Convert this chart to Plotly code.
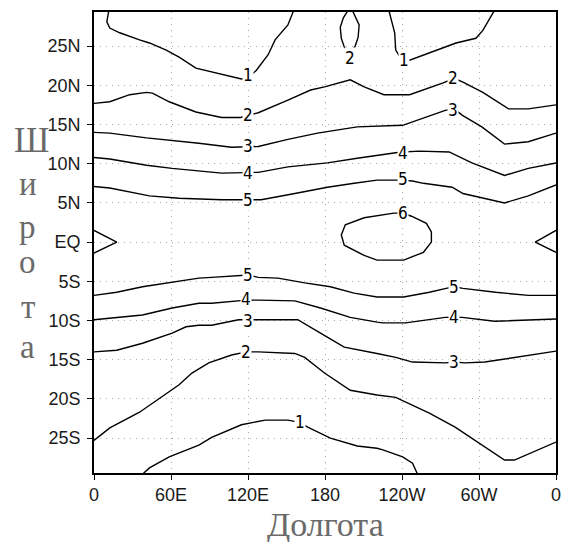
import plotly.graph_objects as go

# ---------------- axis ticks ----------------
x_tickvals = [0, 60, 120, 180, 240, 300, 360]
x_ticktext = ["0", "60E", "120E", "180", "120W", "60W", "0"]
y_tickvals = [25, 20, 15, 10, 5, 0, -5, -10, -15, -20, -25]
y_ticktext = ["25N", "20N", "15N", "10N", "5N", "EQ", "5S", "10S", "15S", "20S", "25S"]

# ---------------- contour lines (lon, lat) ----------------
c1_nw_lon = [11.6, 10.0, 12.3, 20.0, 35.5, 43.2, 56.3, 66.3, 79.4, 91.7, 114.9, 120.3, 126.4, 135.7, 141.1, 151.1, 155.7]
c1_nw_lat = [29.6, 28.1, 27.3, 26.7, 25.8, 25.4, 24.5, 23.6, 22.2, 21.7, 20.8, 21.0, 21.9, 23.9, 25.8, 27.7, 29.6]

c1_ne_lon = [229.7, 234.3, 235.1, 239.0, 245.9, 266.7, 282.1, 297.6, 303.0, 312.2]
c1_ne_lat = [29.6, 26.7, 24.5, 23.5, 23.2, 24.5, 25.4, 26.0, 27.0, 29.6]

c2_loop_lon = [198.1, 194.3, 191.9, 192.7, 195.0, 199.7, 203.5, 205.8, 206.6, 203.5, 201.2]
c2_loop_lat = [29.6, 28.6, 27.4, 26.0, 24.9, 24.0, 25.0, 26.1, 27.7, 28.8, 29.6]

c2_n_lon = [0, 12.3, 27.8, 40.9, 45.5, 58.6, 79.4, 99.4, 114.1, 120.3, 128.0, 151.1, 168.8, 179.6, 199.7,
            210.5, 225.9, 245.9, 272.1, 280.6, 287.5, 303.0, 323.0, 338.4, 360]
c2_n_lat = [17.7, 17.9, 18.8, 19.1, 19.0, 17.9, 16.6, 15.9, 15.9, 16.2, 16.5, 18.1, 19.4, 19.8, 20.7,
            19.8, 18.8, 18.8, 20.3, 20.9, 20.4, 19.1, 17.0, 17.0, 17.5]

c3_n_lon = [0, 12.3, 40.9, 60.9, 81.7, 107.2, 120.3, 128.0, 151.1, 174.2, 205.1, 220.5, 240.5, 273.7,
            280.6, 286.8, 302.2, 319.9, 338.4, 360]
c3_n_lat = [14.0, 13.9, 13.3, 13.0, 12.6, 12.1, 12.2, 12.2, 13.1, 13.9, 14.7, 14.8, 14.9, 16.8,
            17.0, 16.2, 14.7, 12.5, 12.8, 13.9]

c4_n_lon = [0, 12.3, 40.9, 60.9, 99.4, 120.3, 128.0, 151.1, 181.9, 205.1, 220.5, 235.1, 240.5, 253.6,
            276.7, 294.5, 319.9, 338.4, 360]
c4_n_lat = [10.8, 10.6, 9.8, 9.4, 8.8, 8.9, 8.9, 9.6, 10.1, 10.7, 11.1, 11.4, 11.5, 11.6,
            11.5, 10.1, 8.5, 9.4, 10.1]

c5_n_lon = [0, 12.3, 43.2, 66.3, 99.4, 120.3, 130.3, 156.5, 181.9, 202.7, 220.5, 240.5, 248.2, 256.7,
            279.1, 287.5, 319.9, 338.4, 360]
c5_n_lat = [7.1, 6.9, 5.9, 5.6, 5.4, 5.4, 5.4, 6.2, 7.0, 7.5, 7.9, 7.9, 7.8, 7.5,
            7.0, 6.2, 5.0, 5.9, 7.3]

c6_oval_lon = [240.5, 233.6, 210.5, 195.8, 192.7, 195.0, 210.5, 220.5, 241.3, 256.7, 262.9, 262.9, 259.0, 247.4, 240.5]
c6_oval_lat = [3.7, 3.7, 3.1, 2.2, 0.9, -0.4, -1.7, -2.3, -2.3, -1.3, 0.0, 1.3, 2.4, 3.3, 3.7]

c6_west_lon = [0, 17.7, 0]
c6_west_lat = [1.5, 0.0, -1.4]
c6_east_lon = [360, 343.8, 360]
c6_east_lat = [1.5, 0.0, -1.3]

c5_s_lon = [0, 17.7, 37.8, 60.9, 81.7, 91.7, 112.5, 120.3, 128.0, 143.4, 164.2, 184.2, 202.7, 220.5,
            241.3, 261.3, 274.4, 280.6, 287.5, 313.0, 338.4, 360]
c5_s_lat = [-6.8, -6.4, -5.7, -5.1, -4.6, -4.5, -4.3, -4.2, -4.5, -4.6, -5.2, -5.7, -6.5, -7.0,
            -7.0, -6.4, -5.9, -5.7, -5.9, -6.4, -6.8, -6.8]

c4_s_lon = [0, 17.7, 37.8, 60.9, 81.7, 91.7, 112.5, 118.7, 128.0, 156.5, 176.5, 199.7, 220.5, 225.1,
            242.8, 273.7, 280.6, 286.8, 312.2, 338.4, 360]
c4_s_lat = [-9.9, -9.6, -9.3, -8.4, -7.8, -7.8, -7.5, -7.4, -7.4, -7.5, -8.4, -9.6, -10.2, -10.3,
            -10.3, -9.6, -9.6, -9.6, -10.1, -9.9, -9.8]

c3_s_lon = [0, 17.7, 37.8, 60.9, 71.7, 81.7, 91.7, 112.5, 120.3, 128.0, 158.8, 176.5, 195.0, 220.5,
            235.1, 248.2, 273.7, 280.6, 289.1, 304.5, 338.4, 360]
c3_s_lat = [-14.0, -13.8, -12.9, -11.6, -10.8, -10.6, -10.6, -9.9, -9.9, -9.9, -9.9, -11.6, -13.4, -14.2,
            -14.7, -15.3, -15.4, -15.3, -15.4, -15.3, -14.4, -13.9]

c2_s_lon = [0, 12.3, 35.5, 48.6, 66.3, 76.3, 89.4, 107.2, 118.7, 128.0, 156.5, 164.2, 179.6, 199.7,
            220.5, 235.1, 242.8, 261.3, 281.4, 299.9, 319.9, 327.6, 346.1, 360]
c2_s_lat = [-25.3, -23.7, -21.7, -20.2, -18.2, -16.7, -15.4, -14.4, -14.0, -14.0, -14.2, -14.7, -16.7, -18.9,
            -19.5, -19.8, -20.4, -21.8, -23.6, -25.6, -27.8, -27.8, -26.5, -25.5]

c1_s_lon = [37.8, 43.2, 58.6, 71.7, 81.7, 91.7, 114.9, 133.4, 151.1, 160.3, 166.5, 184.2, 205.1, 220.5,
            225.1, 240.5, 248.2, 252.1]
c1_s_lat = [-29.6, -28.8, -27.4, -26.5, -25.9, -24.9, -23.3, -22.7, -22.7, -23.0, -23.6, -25.0, -26.0, -26.3,
            -26.5, -27.4, -28.2, -29.6]

# contour labels: (text, lon, lat)
label_text = ["1", "1", "2", "2", "2", "3", "3", "4", "4", "5", "5", "6",
              "5", "5", "4", "4", "3", "3", "2", "1"]
label_lon = [120.3, 241.3, 199.7, 120.3, 279.8, 120.3, 279.8, 120.3, 240.5, 120.3, 240.5, 240.5,
             120.3, 280.6, 118.7, 280.6, 120.3, 280.6, 118.7, 160.3]
label_lat = [21.3, 23.2, 23.5, 16.2, 20.9, 12.2, 16.8, 8.8, 11.4, 5.4, 8.0, 3.7,
             -4.2, -5.7, -7.2, -9.6, -10.0, -15.3, -14.0, -23.0]

lines = [
    (c1_nw_lon, c1_nw_lat), (c1_ne_lon, c1_ne_lat), (c2_loop_lon, c2_loop_lat),
    (c2_n_lon, c2_n_lat), (c3_n_lon, c3_n_lat), (c4_n_lon, c4_n_lat), (c5_n_lon, c5_n_lat),
    (c6_oval_lon, c6_oval_lat), (c6_west_lon, c6_west_lat), (c6_east_lon, c6_east_lat),
    (c5_s_lon, c5_s_lat), (c4_s_lon, c4_s_lat), (c3_s_lon, c3_s_lat),
    (c2_s_lon, c2_s_lat), (c1_s_lon, c1_s_lat),
]

fig = go.Figure()
for lon, lat in lines:
    fig.add_trace(go.Scatter(x=lon, y=lat, mode="lines",
                             line=dict(color="black", width=1.4),
                             hoverinfo="skip", showlegend=False))

label_font = dict(family="DejaVu Sans Condensed, Liberation Sans", size=17, color="black")
for t, lo, la in zip(label_text, label_lon, label_lat):
    fig.add_annotation(x=lo, y=la, xref="x", yref="y", text=t, showarrow=False,
                       font=label_font, bgcolor="white", borderpad=0)

# axis titles
title_color = "#6a6a6a"
fig.add_annotation(x=0.5, y=-0.112, xref="paper", yref="paper", text="Долгота",
                   showarrow=False, xanchor="center", yanchor="middle",
                   font=dict(family="Liberation Serif", size=34, color=title_color))
ylet = ["Ш", "и", "р", "о", "т", "а"]
ylet_y = [0.722, 0.627, 0.534, 0.458, 0.360, 0.2735]
ylet_x = [-0.135, -0.1435, -0.1435, -0.1435, -0.1435, -0.1435]
ylet_size = [35, 33, 33, 33, 33, 33]
for ch, yy, xx, sz in zip(ylet, ylet_y, ylet_x, ylet_size):
    fig.add_annotation(x=xx, y=yy, xref="paper", yref="paper", text=ch, showarrow=False,
                       xanchor="center", yanchor="middle",
                       font=dict(family="Liberation Serif", size=sz, color=title_color))

axis_common = dict(
    showline=True, mirror=True, linecolor="black", linewidth=1.6,
    ticks="outside", ticklen=5, tickwidth=1.4, tickcolor="black",
    showgrid=True, gridcolor="#a8a8a8", gridwidth=1, griddash="1px,5px",
    zeroline=False,
    tickfont=dict(family="Liberation Sans", size=18, color="#1a1a1a"),
)
fig.update_xaxes(range=[0, 360], tickmode="array", tickvals=x_tickvals, ticktext=x_ticktext, **axis_common)
fig.update_yaxes(range=[-29.45, 29.35], tickmode="array", tickvals=y_tickvals, ticktext=y_ticktext,
                 ticklabelstandoff=3, **axis_common)

fig.update_layout(
    width=566, height=542, autosize=False,
    margin=dict(l=94, r=5, t=12, b=69),
    plot_bgcolor="white", paper_bgcolor="white",
    showlegend=False,
)

fig.write_html("out.html")
